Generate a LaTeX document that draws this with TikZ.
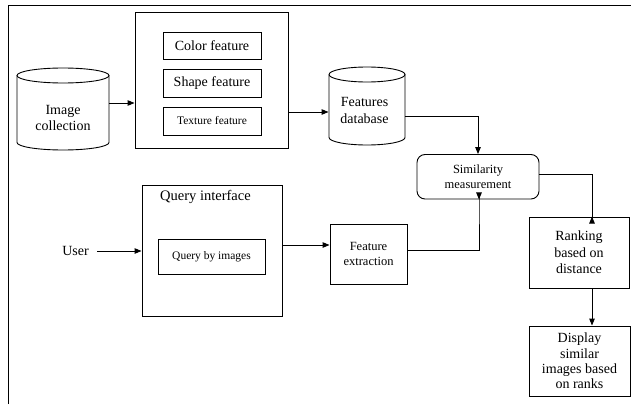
\documentclass[tikz,border=0pt]{standalone}
\usepackage{fontspec}
\setmainfont{Liberation Serif}
\usetikzlibrary{arrows.meta}
\begin{document}
\begin{tikzpicture}[x=1pt,y=-1pt,line width=0.9pt,
  box/.style={draw, rectangle, inner sep=0pt, align=center},
  plain/.style={inner sep=0pt, align=center},
  arr/.style={line width=1pt, -{Triangle[length=7pt,width=5.5pt]}},
  big/.style={font=\fontsize{14}{16.5}\selectfont},
  mid/.style={font=\fontsize{12.5}{15}\selectfont},
  small/.style={font=\fontsize{11.5}{14}\selectfont}]
\useasboundingbox (0,0) rectangle (631,404);

% page frame (top and left edges only)
\draw (8,404) -- (8,5) -- (631,5);

% image collection cylinder
\node[plain, minimum width=92pt, minimum height=82pt] (imgcol) at (63,109) {};
\draw (63,75.5) ellipse[x radius=46pt, y radius=7.5pt];
\draw (17,75.5) -- (17,142.5) arc[start angle=180, end angle=360, x radius=46pt, y radius=7.5pt] -- (109,75.5);
\node[plain, big] (imgtxt) at (63,118) {Image\\collection};

% feature extraction group
\node[box, minimum width=153pt, minimum height=136pt] (feat) at (211.5,80) {};
\node[box, big, minimum width=98pt, minimum height=27pt] (color) at (212,45.5) {Color feature};
\node[box, big, minimum width=98pt, minimum height=28pt] (shape) at (212,83) {Shape feature};
\node[box, small, minimum width=98pt, minimum height=28pt] (texture) at (212,121) {Texture feature};

% features database cylinder
\node[plain, minimum width=76pt, minimum height=78pt] (fdb) at (367,106) {};
\draw (367,74.5) ellipse[x radius=38pt, y radius=7.5pt];
\draw (329,74.5) -- (329,137.5) arc[start angle=180, end angle=360, x radius=38pt, y radius=7.5pt] -- (405,74.5);
\node[plain, big] (fdbtxt) at (364.5,110.5) {Features\\database};

% similarity
\node[box, mid, rounded corners=8pt, minimum width=122pt, minimum height=44.5pt] (sim) at (478,176.75) {Similarity\\measurement};

% ranking and display
\node[box, big, minimum width=100pt, minimum height=71pt] (rank) at (579,252.5) {Ranking\\based on\\distance};
\node[box, big, minimum width=101pt, minimum height=70pt, font=\fontsize{14}{15.3}\selectfont] (disp) at (579.5,361) {Display\\similar\\images based\\on ranks};

% query side
\node[plain, big] (user) at (75.5,251) {User};
\node[box, minimum width=140pt, minimum height=131pt] (query) at (212,250.5) {};
\node[plain, font=\fontsize{14.5}{17}\selectfont] (qtitle) at (205.5,197) {Query interface};
\node[box, small, minimum width=107pt, minimum height=35pt] (qbi) at (211.5,256.5) {Query by images};
\node[box, mid, minimum width=77pt, minimum height=60pt] (fe) at (368.5,254) {Feature\\extraction};

% connectors
\draw[arr] (imgcol.east |- 0,103) -- (feat.west |- 0,103);
\draw[arr] (feat.east |- 0,112) -- (fdb.west |- 0,112);
\draw[arr] (fdb.east |- 0,116) -| (sim.north);
\draw[arr] (sim.east |- 0,174) -| (592,217) -- (rank.north -| 592,0);
\draw[arr] (rank.south -| 592,0) -- (disp.north -| 592,0);
\draw[arr] ([xshift=8pt]user.east) -- (query.west |- user.east);
\draw[arr] (query.east |- 0,245) -- (fe.west |- 0,245);
\draw[arr] (fe.east |- 0,250) -| (479,199) -- (sim.south -| 479,0);
\end{tikzpicture}
\end{document}
